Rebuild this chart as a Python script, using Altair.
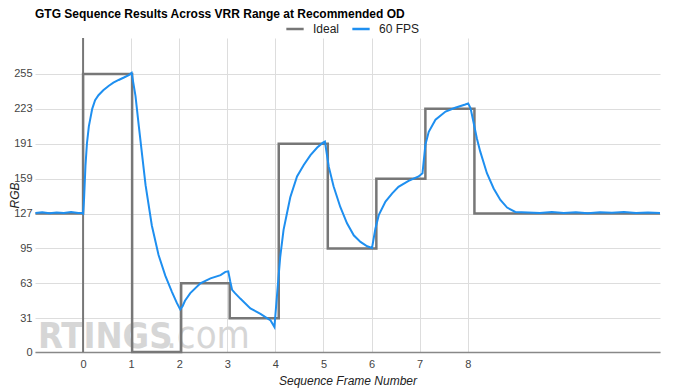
import altair as alt
import pandas as pd

# Ideal step series (step-after)
ideal_x = [-0.99, 0.0, 1.02, 2.04, 3.05, 4.07, 5.09, 6.10, 7.12, 8.14, 12.0]
ideal_y = [127, 255, 0, 63, 31, 191, 95, 159, 223, 127, 127]

# 60 FPS measured response
fps_x = [-0.99, -0.85, -0.7, -0.55, -0.4, -0.25, -0.1, -0.02, 0.0, 0.02, 0.05,
         0.08, 0.12, 0.19, 0.25, 0.32, 0.42, 0.53, 0.63, 0.74, 0.86, 0.95, 1.01,
         1.09, 1.16, 1.30, 1.43, 1.57, 1.71, 1.85, 1.95, 2.02, 2.07, 2.12, 2.23,
         2.44, 2.65, 2.86, 2.96, 3.02, 3.06, 3.10, 3.16, 3.27, 3.48, 3.69, 3.90,
         3.98, 4.03, 4.10, 4.17, 4.24, 4.31, 4.45, 4.59, 4.73, 4.87, 4.99, 5.03,
         5.11, 5.21, 5.35, 5.49, 5.63, 5.77, 5.91, 6.01, 6.08, 6.15, 6.29, 6.43,
         6.56, 6.77, 6.98, 7.06, 7.12, 7.19, 7.33, 7.54, 7.74, 7.95, 8.01, 8.06,
         8.12, 8.19, 8.26, 8.40, 8.54, 8.68, 8.82, 8.99, 9.25, 9.5, 9.75, 10.0,
         10.25, 10.5, 10.75, 11.0, 11.25, 11.5, 11.75, 12.0]
fps_y = [127.5, 128.2, 127.3, 128.0, 127.4, 128.3, 127.6, 127.8, 127.0, 140, 171,
         191, 207, 223, 231, 235.5, 240, 244, 247, 249.5, 252, 254, 256,
         235, 207, 153, 116, 89, 70, 55, 45, 39, 42, 47, 54,
         63, 67.5, 70.5, 73.5, 74, 65, 57, 54, 49, 40, 35, 29,
         23, 50, 87, 112, 127, 142, 161, 171.5, 180.5, 187.5, 192, 193,
         170, 152, 133, 118, 107, 101, 97, 95.5, 113, 125.5, 138, 145.5,
         151.5, 157, 161, 164, 190, 202, 213, 220.5, 224, 227, 228, 223.5,
         211, 196, 184, 164, 150, 139.5, 132.5, 128.5, 128.0, 127.4, 128.3, 127.6,
         128.1, 127.3, 128.2, 127.7, 128.4, 127.5, 128.0, 127.6]

series_names = ["Ideal", "60 FPS"]
series_colors = ["#777777", "#1e8ff0"]

x_ticks = [0, 1, 2, 3, 4, 5, 6, 7, 8]
y_ticks = [0, 31, 63, 95, 127, 159, 191, 223, 255]

ideal_df = pd.DataFrame({"x": ideal_x, "y": ideal_y, "series": "Ideal"})
fps_df = pd.DataFrame({"x": fps_x, "y": fps_y, "series": "60 FPS"})

FONT = "Liberation Sans"
WM_FONT = "'Liberation Sans Narrow', 'DejaVu Sans Condensed', 'Roboto Condensed', Roboto, sans-serif"

xscale = alt.Scale(domain=[-1, 12], nice=False, zero=False)
yscale = alt.Scale(domain=[0, 288], nice=False)
color = alt.Color(
    "series:N",
    scale=alt.Scale(domain=series_names, range=series_colors),
    legend=alt.Legend(
        title=None, orient="none", legendX=250, legendY=-19,
        direction="horizontal", symbolType="stroke", symbolSize=300,
        symbolStrokeWidth=2.5, labelFontSize=12, labelFont=FONT,
        labelColor="#222222", columnPadding=7, labelOffset=8,
    ),
)

x_enc = alt.X(
    "x:Q", scale=xscale,
    axis=alt.Axis(values=x_ticks, title="Sequence Frame Number", titleFontStyle="italic",
                  titleFontWeight="normal", titleFont=FONT, titleFontSize=12,
                  titleColor="#222222", titlePadding=6, labelFont=FONT,
                  labelFontSize=11, labelColor="#444444", labelPadding=6, ticks=False,
                  domainColor="#888888", domainWidth=1.5, gridColor="#dddddd",
                  grid=True, labelFlush=False, labelOverlap=False),
)
y_enc = alt.Y(
    "y:Q", scale=yscale,
    axis=alt.Axis(values=y_ticks, title="RGB", titleFontStyle="italic",
                  titleFontWeight="normal", titleFont=FONT, titleFontSize=12,
                  titleColor="#222222", titleX=-21, titleY=157, titleAngle=-90,
                  titleAlign="center", titleBaseline="middle", labelFont=FONT,
                  labelFontSize=11, labelColor="#444444", labelPadding=3, ticks=False,
                  domain=False, gridColor="#dddddd", grid=True, labelOverlap=False,
                  labelFlush=False, labelSeparation=0),
)

wm_text = ["RTINGS", ".com"]
watermark1 = alt.Chart(pd.DataFrame({"t": [wm_text[0]]})).mark_text(
    font=WM_FONT, fontWeight="bold", fontSize=36, color="#d6d6d6",
    align="left", baseline="alphabetic",
).encode(text="t:N", x=alt.value(3), y=alt.value(310))
watermark2 = alt.Chart(pd.DataFrame({"t": [wm_text[1]]})).mark_text(
    font=WM_FONT, fontSize=38, color="#d6d6d6",
    align="left", baseline="alphabetic",
).encode(text="t:N", x=alt.value(131), y=alt.value(310))

base_rule = alt.Chart(pd.DataFrame({"x": [0]})).mark_rule(
    color="#777777", strokeWidth=2
).encode(x=alt.X("x:Q", scale=xscale))

ideal = alt.Chart(ideal_df).mark_line(interpolate="step-after", strokeWidth=2.5).encode(
    x=x_enc, y=y_enc, color=color
)
fps = alt.Chart(fps_df).mark_line(strokeWidth=2).encode(
    x=x_enc, y=y_enc, color=color
)

chart = alt.layer(watermark1, watermark2, base_rule, ideal, fps).properties(
    width=625, height=314,
    title=alt.TitleParams(
        "GTG Sequence Results Across VRR Range at Recommended OD",
        anchor="start", frame="group", font=FONT, fontSize=12, fontWeight="bold",
        color="#000000", offset=10, dy=12,
    ),
    autosize=alt.AutoSizeParams(type="none"),
    padding={"left": 27, "top": 30, "right": 7, "bottom": 36},
).configure_view(stroke=None).configure_axisY(labelOverlap=False)

chart.save("out.html", embed_options={"renderer": "svg", "actions": False})
